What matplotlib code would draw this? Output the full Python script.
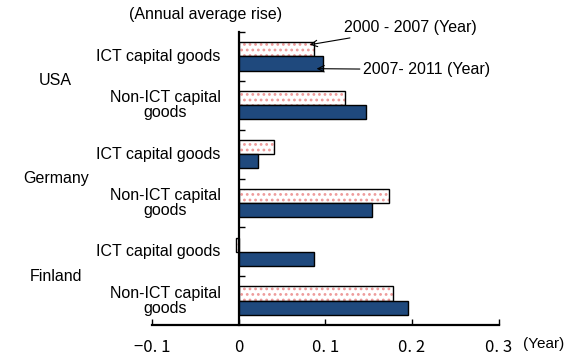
import matplotlib.pyplot as plt
from matplotlib.transforms import blended_transform_factory

plt.rcParams['font.family'] = ['Liberation Sans', 'DejaVu Sans']
plt.rcParams['hatch.linewidth'] = 1.2

countries = ['USA', 'Germany', 'Finland']
goods = ['ICT capital goods', 'Non-ICT capital\ngoods'] * 3
rise_2000_2007 = [0.087, 0.123, 0.041, 0.174, -0.003, 0.178]
rise_2007_2011 = [0.097, 0.147, 0.022, 0.154, 0.087, 0.195]
xticks = [-0.1, 0, 0.1, 0.2, 0.3]
xtick_labels = ['\u22120. 1', '0', '0. 1', '0. 2', '0. 3']

blue = '#1F497D'
dot_red = '#EE9999'
h = 0.29

fig = plt.figure(figsize=(5.84, 3.56), dpi=100)
ax = fig.add_axes([0.260, 0.087, 0.594, 0.823])

pos = list(range(len(goods)))
top = [p - h / 2 for p in pos]
bot = [p + h / 2 for p in pos]

# dotted bars: hatch layer, then black outline on top
ax.barh(top, rise_2000_2007, height=h, color='white', edgecolor=dot_red,
        hatch='...', linewidth=0, zorder=2)
ax.barh(top, rise_2000_2007, height=h, fill=False, edgecolor='black',
        linewidth=1.0, zorder=3)
ax.barh(bot, rise_2007_2011, height=h, color=blue, edgecolor='black',
        linewidth=1.0, zorder=3)

ax.set_xlim(-0.1, 0.3)
ax.set_ylim(len(goods) - 0.5, -0.5)

for s in ['top', 'right']:
    ax.spines[s].set_visible(False)
ax.spines['left'].set_position(('data', 0))
ax.spines['left'].set_linewidth(1.6)
ax.spines['bottom'].set_linewidth(1.6)

ax.set_yticks([p - 0.5 for p in pos])
ax.set_yticklabels([])
ax.tick_params(axis='y', direction='in', length=4, width=1)
ax.set_xticks(xticks)
ax.set_xticklabels(xtick_labels, family=['Noto Sans CJK JP', 'DejaVu Sans'],
                   fontsize=12)
ax.tick_params(axis='x', direction='in', length=4, width=1, pad=10)

trans = blended_transform_factory(ax.transAxes, ax.transData)
for p, name in zip(pos, goods):
    ax.text(0.199, p, name, transform=trans, ha='right', va='center',
            multialignment='center', fontsize=11.5, linespacing=1.0)
for i, c in enumerate(countries):
    ax.text(-0.277, 2 * i + 0.5, c, transform=trans, ha='center',
            va='center', fontsize=11.5)

fig.text(206 / 584, 1 - 15 / 356, '(Annual average rise)', ha='center',
         va='center', fontsize=11.5)
fig.text(523 / 584, 1 - 344 / 356, '(Year)', ha='left', va='center',
         fontsize=11)

ax.annotate('2000 - 2007 (Year)', xy=(0.082, -0.24), xytext=(0.122, -0.59),
            ha='left', va='center', fontsize=11.5, annotation_clip=False,
            arrowprops=dict(arrowstyle='->', color='black', lw=0.8,
                            shrinkA=0, shrinkB=0))
ax.annotate('2007- 2011 (Year)', xy=(0.090, 0.25), xytext=(0.143, 0.27),
            ha='left', va='center', fontsize=11.5, annotation_clip=False,
            arrowprops=dict(arrowstyle='->', color='black', lw=0.8,
                            shrinkA=0, shrinkB=0))

fig.savefig('out.png', dpi=100)
